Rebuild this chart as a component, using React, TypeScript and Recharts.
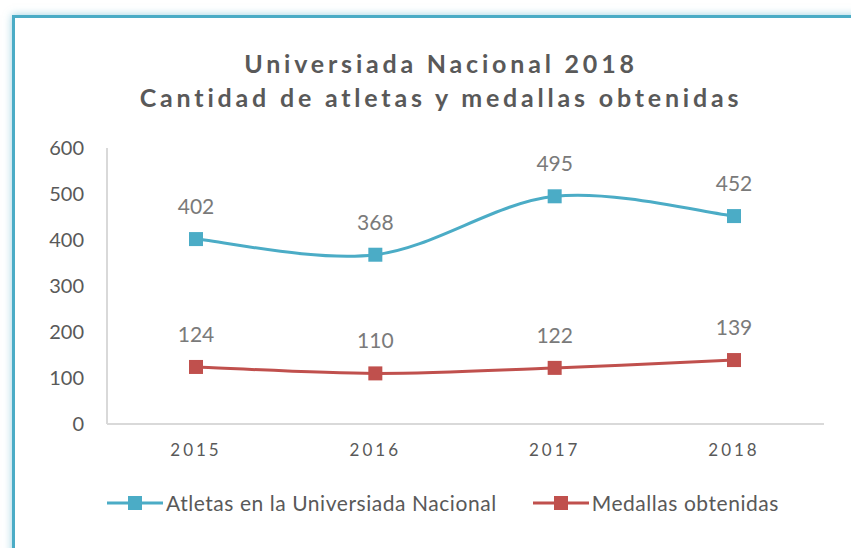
import { LineChart, Line, XAxis, YAxis, LabelList, Legend } from "recharts";

const years = ["2015", "2016", "2017", "2018"];
const atletas = [402, 368, 495, 452];
const medallas = [124, 110, 122, 139];
const yTicks = [0, 100, 200, 300, 400, 500, 600];

const data = years.map((year, i) => ({
  year,
  atletas: atletas[i],
  medallas: medallas[i],
}));

const TEAL = "#4BACC6";
const RED = "#C0504D";
const FONT = "Lato, 'Open Sans', sans-serif";

// Catmull-Rom style smoothing, roughly what Excel does for smoothed lines
const smoothCurve = (context: any) => {
  let pts: [number, number][] = [];
  return {
    areaStart() {},
    areaEnd() {},
    lineStart() {
      pts = [];
    },
    point(x: number, y: number) {
      pts.push([+x, +y]);
    },
    lineEnd() {
      if (!pts.length) return;
      context.moveTo(pts[0][0], pts[0][1]);
      for (let i = 0; i < pts.length - 1; i++) {
        const p0 = pts[Math.max(i - 1, 0)];
        const p1 = pts[i];
        const p2 = pts[i + 1];
        const p3 = pts[Math.min(i + 2, pts.length - 1)];
        context.bezierCurveTo(
          p1[0] + (p2[0] - p0[0]) / 6,
          p1[1] + (p2[1] - p0[1]) / 6,
          p2[0] - (p3[0] - p1[0]) / 6,
          p2[1] - (p3[1] - p1[1]) / 6,
          p2[0],
          p2[1]
        );
      }
    },
  };
};

const squareDot = (color: string) => (props: any) => {
  const { cx, cy, index } = props;
  if (cx == null || cy == null) return <g key={index} />;
  return <rect key={index} x={cx - 7} y={cy - 7} width={14} height={14} fill={color} />;
};

const legendItems = [
  { label: "Atletas en la Universiada Nacional", color: TEAL },
  { label: "Medallas obtenidas", color: RED },
];

const renderLegend = () => (
  <div style={{ display: "flex", gap: 36, paddingLeft: 107, fontFamily: FONT }}>
    {legendItems.map((item) => (
      <div key={item.label} style={{ display: "flex", alignItems: "center" }}>
        <svg width={56} height={16}>
          <line x1={0} y1={8} x2={56} y2={8} stroke={item.color} strokeWidth={3} />
          <rect x={21} y={1} width={14} height={14} fill={item.color} />
        </svg>
        <span style={{ fontSize: 21, letterSpacing: 0.55, color: "#595959", marginLeft: 3 }}>
          {item.label}
        </span>
      </div>
    ))}
  </div>
);

export default function App() {
  return (
    <div
      style={{
        position: "absolute",
        left: 0,
        top: 0,
        width: 851,
        height: 548,
        overflow: "hidden",
        background: "#fff",
      }}
    >
      <div
        style={{
          position: "absolute",
          left: 12,
          top: 15,
          width: 900,
          height: 600,
          border: `3px solid ${TEAL}`,
          boxShadow: "0 0 8px rgba(75,172,198,0.55)",
          background: "#fff",
        }}
      />
      <div
        style={{
          position: "absolute",
          left: 0,
          top: 46,
          width: 882,
          textAlign: "center",
          fontFamily: FONT,
          fontWeight: 700,
          fontSize: 25,
          letterSpacing: 3.8,
          lineHeight: "34px",
          color: "#595959",
        }}
      >
        <div>Universiada Nacional 2018</div>
        <div>Cantidad de atletas y medallas obtenidas</div>
      </div>
      <div style={{ position: "absolute", left: 0, top: 0 }}>
        <LineChart
          width={851}
          height={548}
          data={data}
          margin={{ top: 148, right: 27, left: 0, bottom: 84 }}
        >
          <XAxis
            dataKey="year"
            height={40}
            padding={{ left: 89, right: 90 }}
            axisLine={{ stroke: "#d9d9d9", strokeWidth: 2 }}
            tickLine={false}
            tickSize={0}
            tickMargin={20}
            tick={{ fill: "#595959", fontSize: 17, fontFamily: FONT, letterSpacing: 3 }}
          />
          <YAxis
            width={107}
            domain={[0, 600]}
            ticks={yTicks}
            interval={0}
            axisLine={{ stroke: "#d9d9d9", strokeWidth: 2 }}
            tickLine={false}
            tickSize={0}
            tickMargin={23}
            tick={{ fill: "#595959", fontSize: 20, fontFamily: FONT }}
          />
          <Legend
            verticalAlign="middle"
            align="center"
            layout="horizontal"
            content={renderLegend}
            wrapperStyle={{ top: 490, left: 0, width: 851 }}
          />
          <Line
            dataKey="atletas"
            name="Atletas en la Universiada Nacional"
            type={smoothCurve as any}
            stroke={TEAL}
            strokeWidth={3}
            dot={squareDot(TEAL)}
            activeDot={false}
            isAnimationActive={false}
          >
            <LabelList
              dataKey="atletas"
              position="top"
              offset={25}
              fill="#7a7a7a"
              fontSize={21}
              fontFamily={FONT}
            />
          </Line>
          <Line
            dataKey="medallas"
            name="Medallas obtenidas"
            type={smoothCurve as any}
            stroke={RED}
            strokeWidth={3}
            dot={squareDot(RED)}
            activeDot={false}
            isAnimationActive={false}
          >
            <LabelList
              dataKey="medallas"
              position="top"
              offset={25}
              fill="#7a7a7a"
              fontSize={21}
              fontFamily={FONT}
            />
          </Line>
        </LineChart>
      </div>
    </div>
  );
}
